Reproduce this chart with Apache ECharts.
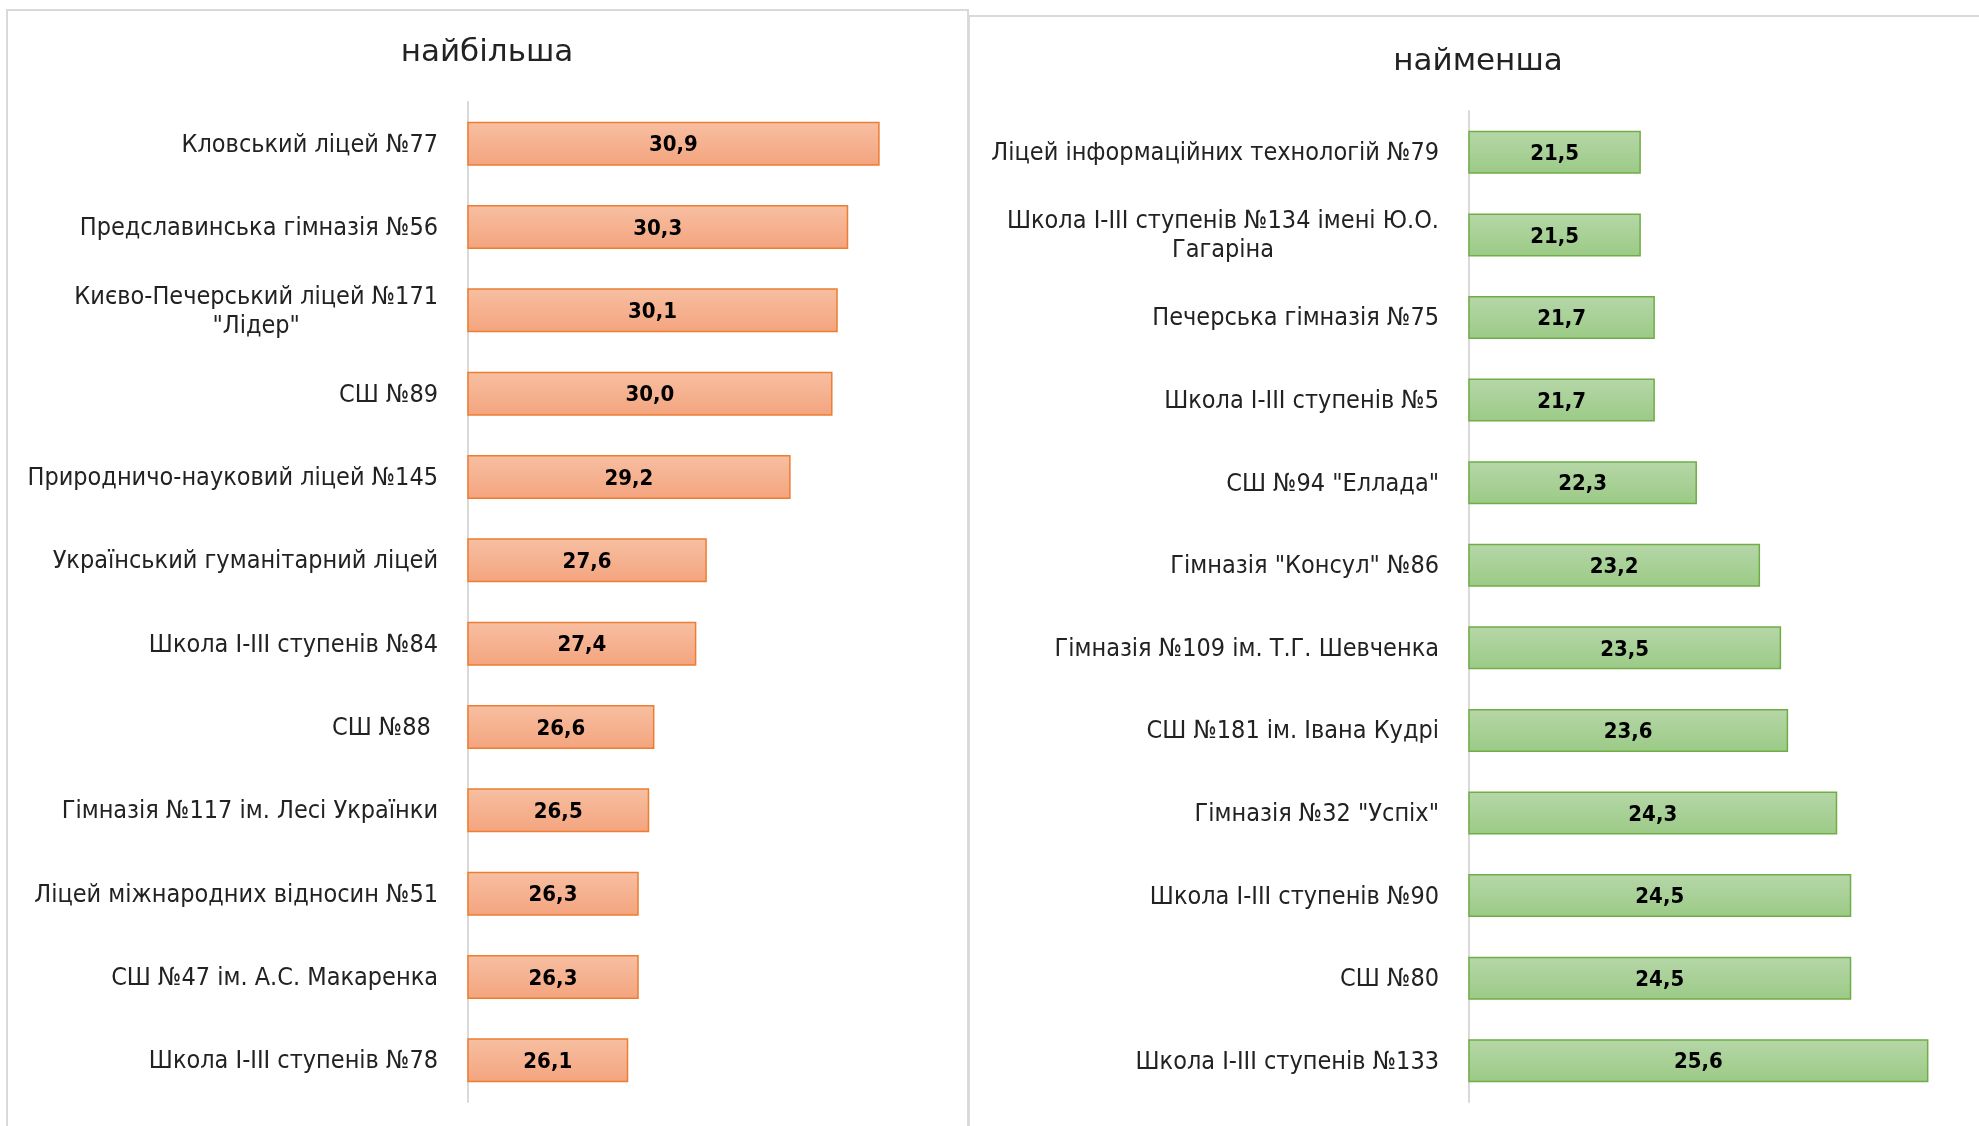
<!DOCTYPE html>
<html>
<head>
<meta charset="utf-8">
<script src="https://cdn.jsdelivr.net/npm/echarts@6/dist/echarts.min.js"></script>
<style>
html,body{margin:0;padding:0;background:#fff;}
#chart{width:1979px;height:1126px;}
</style>
</head>
<body>
<div id="chart"></div>
<script>
// ---- data ----
const leftTitle = 'найбільша';
const rightTitle = 'найменша';

const leftCategories = [
  'Кловський ліцей №77',
  'Предславинська гімназія №56',
  'Києво-Печерський ліцей №171\n"Лідер"',
  'СШ №89',
  'Природничо-науковий ліцей №145',
  'Український гуманітарний ліцей',
  'Школа І-ІІІ ступенів №84',
  'СШ №88 ',
  'Гімназія №117 ім. Лесі Українки',
  'Ліцей міжнародних відносин №51',
  'СШ №47 ім. А.С. Макаренка',
  'Школа І-ІІІ ступенів №78'
];
const leftValues = [30.9, 30.3, 30.1, 30.0, 29.2, 27.6, 27.4, 26.6, 26.5, 26.3, 26.3, 26.1];

const rightCategories = [
  'Ліцей інформаційних технологій №79',
  'Школа І-ІІІ ступенів №134 імені Ю.О.\nГагаріна',
  'Печерська гімназія №75',
  'Школа І-ІІІ ступенів №5',
  'СШ №94 "Еллада"',
  'Гімназія "Консул" №86',
  'Гімназія №109 ім. Т.Г. Шевченка',
  'СШ №181 ім. Івана Кудрі',
  'Гімназія №32 "Успіх"',
  'Школа І-ІІІ ступенів №90',
  'СШ №80',
  'Школа І-ІІІ ступенів №133'
];
const rightValues = [21.5, 21.5, 21.7, 21.7, 22.3, 23.2, 23.5, 23.6, 24.3, 24.5, 24.5, 25.6];

// ---- styling ----
const FONT = "'DejaVu Sans Condensed', 'DejaVu Sans', sans-serif";
const TEXT = '#222222';

const chart = echarts.init(document.getElementById('chart'), null, {renderer: 'canvas'});

function catLabel() {
  return {
    color: TEXT,
    fontFamily: FONT,
    fontSize: 25,
    margin: 30,
    align: 'right',
    formatter: v => v.split('\n').map(s => '{c|' + s + '}').join('\n'),
    rich: {
      c: { align: 'center', color: TEXT, fontFamily: FONT, fontSize: 25, lineHeight: 29, padding: [3, 0, 0, 0] }
    }
  };
}

function grad(top, bottom) {
  return new echarts.graphic.LinearGradient(0, 0, 0, 1, [
    { offset: 0, color: top },
    { offset: 1, color: bottom }
  ]);
}

const valueLabel = {
  show: true,
  position: 'inside',
  offset: [0, 2],
  color: '#000',
  fontFamily: FONT,
  fontWeight: 'bold',
  fontSize: 22,
  formatter: p => p.value.toFixed(1).replace('.', ',')
};

const option = {
  backgroundColor: '#fff',
  animation: false,
  graphic: [
    { type: 'rect', shape: { x: 7, y: 10, width: 961, height: 1140 },
      style: { fill: 'none', stroke: '#d9d9d9', lineWidth: 2 }, z: 0 },
    { type: 'rect', shape: { x: 969, y: 16, width: 1040, height: 1140 },
      style: { fill: 'none', stroke: '#d9d9d9', lineWidth: 2 }, z: 0 },
    { type: 'text', x: 487, y: 53,
      style: { text: leftTitle, fill: TEXT, font: "31px 'DejaVu Sans', sans-serif", textAlign: 'center', textVerticalAlign: 'middle' } },
    { type: 'text', x: 1478, y: 62,
      style: { text: rightTitle, fill: TEXT, font: "31px 'DejaVu Sans', sans-serif", textAlign: 'center', textVerticalAlign: 'middle' } }
  ],
  grid: [
    { left: 468, width: 419, top: 102, height: 1000 },
    { left: 1469, width: 491, top: 111, height: 991 }
  ],
  xAxis: [
    { gridIndex: 0, type: 'value', min: 23.04, max: 31.04, show: false, splitLine: { show: false } },
    { gridIndex: 1, type: 'value', min: 19.05, max: 26.05, show: false, splitLine: { show: false } }
  ],
  yAxis: [
    { gridIndex: 0, type: 'category', inverse: true, data: leftCategories,
      axisLine: { show: true, lineStyle: { color: '#d9d9d9', width: 2 } },
      axisTick: { show: false }, axisLabel: catLabel() },
    { gridIndex: 1, type: 'category', inverse: true, data: rightCategories,
      axisLine: { show: true, lineStyle: { color: '#d9d9d9', width: 2 } },
      axisTick: { show: false }, axisLabel: catLabel() }
  ],
  series: [
    { type: 'bar', xAxisIndex: 0, yAxisIndex: 0, data: leftValues, barWidth: 44,
      itemStyle: { color: grad('#f7bfa2', '#f4a47e'), borderColor: '#ed7d31', borderWidth: 1.5 },
      label: valueLabel },
    { type: 'bar', xAxisIndex: 1, yAxisIndex: 1, data: rightValues, barWidth: 43,
      itemStyle: { color: grad('#b6d7a8', '#9bca86'), borderColor: '#70ad47', borderWidth: 1.5 },
      label: valueLabel }
  ]
};
chart.setOption(option);
</script>
</body>
</html>
